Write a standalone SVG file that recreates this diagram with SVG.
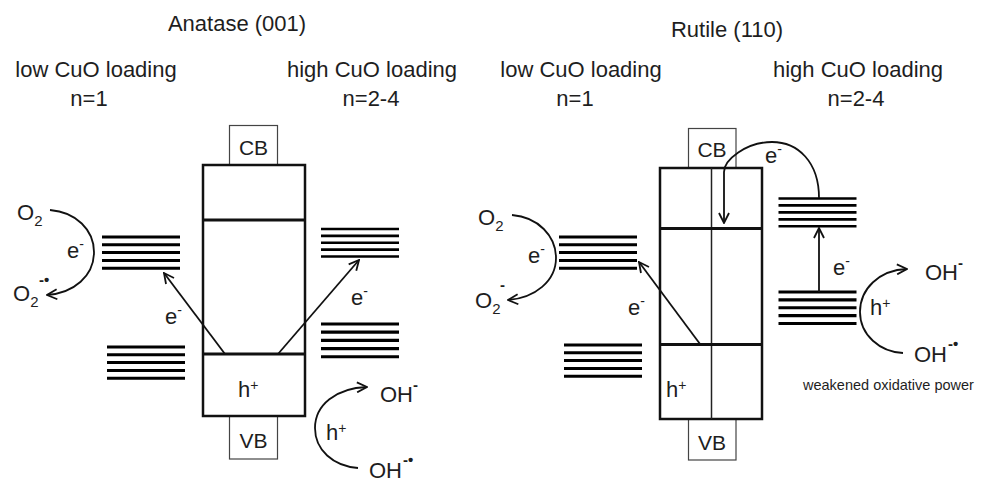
<svg xmlns="http://www.w3.org/2000/svg" width="984" height="483" viewBox="0 0 984 483">
<defs>
<style>
text{font-family:"Liberation Sans",Arial,sans-serif;fill:#1e1e1e;font-size:22px}
.t{font-size:21px}
.c{text-anchor:middle}
.box{fill:none;stroke:#111;stroke-width:2.5}
.thick{stroke:#111;stroke-width:3.2}
.thin{stroke:#222;stroke-width:1.5}
.tag{fill:#fff;stroke:#444;stroke-width:1.2}
.lv{stroke:#000;stroke-width:3}
.con{fill:none;stroke:#111;stroke-width:1.8}
.sup{font-size:14px}
.sm{font-size:15px}
.sym{font-size:15px;font-weight:bold}
.wk{font-size:14.5px}
</style>
<marker id="ah" viewBox="0 0 12 12" refX="11" refY="6" markerWidth="12" markerHeight="12" markerUnits="userSpaceOnUse" orient="auto">
<path d="M1,1 L11,6 L1,11" fill="none" stroke="#111" stroke-width="1.8"/>
</marker>
<g id="lv5" class="lv">
<line x1="0" y1="0" x2="78" y2="0"/>
<line x1="0" y1="7.8" x2="78" y2="7.8"/>
<line x1="0" y1="15.6" x2="78" y2="15.6"/>
<line x1="0" y1="23.4" x2="78" y2="23.4"/>
<line x1="0" y1="31.2" x2="78" y2="31.2"/>
</g>
</defs>
<rect width="984" height="483" fill="#fff"/>

<!-- headings -->
<g id="headings">
<text class="c" x="237" y="31">Anatase (001)</text>
<text class="c" x="96" y="77">low CuO loading</text>
<text class="c" x="89" y="106">n=1</text>
<text class="c" x="372" y="77">high CuO loading</text>
<text class="c" x="371" y="106">n=2-4</text>
<text class="c" x="727" y="37">Rutile (110)</text>
<text class="c" x="581" y="77">low CuO loading</text>
<text class="c" x="575" y="106">n=1</text>
<text class="c" x="858" y="77">high CuO loading</text>
<text class="c" x="856" y="106">n=2-4</text>
</g>

<!-- Anatase -->
<g id="anatase-cb"><rect class="tag" x="229.5" y="125.5" width="48" height="39.5"/><text class="c t" x="253.5" y="155">CB</text></g>
<g id="anatase-vb"><rect class="tag" x="229.5" y="416" width="48" height="43"/><text class="c t" x="253.5" y="448">VB</text></g>
<g id="anatase-body">
<rect class="box" x="203" y="165" width="102" height="251"/>
<line class="thick" x1="203" y1="220" x2="305" y2="220"/>
<line class="thick" x1="203" y1="354" x2="305" y2="354"/>
<text x="238" y="397">h<tspan class="sup" dy="-7">+</tspan></text>
</g>
<g id="anatase-cuo-low-upper"><use href="#lv5" x="102" y="237"/></g>
<g id="anatase-cuo-low-lower"><use href="#lv5" x="107" y="347"/></g>
<g id="anatase-cuo-high-upper"><use href="#lv5" x="321" y="229" transform="translate(321 229) scale(1 0.88) translate(-321 -229)"/></g>
<g id="anatase-cuo-high-lower"><use href="#lv5" x="321" y="324" transform="translate(321 324) scale(1 1.05) translate(-321 -324)"/></g>
<g id="anatase-o2">
<text x="17" y="220">O<tspan class="sm" dy="6">2</tspan></text>
<text x="13" y="301">O<tspan class="sm" dy="6">2</tspan><tspan class="sym" x="39" y="285">-•</tspan></text>
<text x="67" y="258">e<tspan class="sup" dy="-9">-</tspan></text>
</g>
<g id="anatase-oh">
<text x="380" y="402">OH<tspan class="sym" x="413" y="390">-</tspan></text>
<text x="369" y="478">OH<tspan class="sym" x="403" y="465">-•</tspan></text>
<text x="326" y="440">h<tspan class="sup" dy="-7">+</tspan></text>
</g>
<g id="anatase-labels">
<text x="165" y="324">e<tspan class="sup" dy="-9">-</tspan></text>
<text x="351" y="305">e<tspan class="sup" dy="-9">-</tspan></text>
</g>

<!-- Rutile -->
<g id="rutile-cb"><rect class="tag" x="688.5" y="128.5" width="47.5" height="39.5"/><text class="c t" x="712" y="157">CB</text></g>
<g id="rutile-vb"><rect class="tag" x="688.5" y="419" width="47.5" height="41"/><text class="c t" x="712" y="450">VB</text></g>
<g id="rutile-body">
<rect class="box" x="660" y="168" width="102" height="251"/>
<line class="thin" x1="711.5" y1="168" x2="711.5" y2="419"/>
<line class="thick" x1="660" y1="228.5" x2="762" y2="228.5"/>
<line class="thick" x1="660" y1="344.5" x2="762" y2="344.5"/>
<text x="666" y="397">h<tspan class="sup" dy="-7">+</tspan></text>
</g>
<g id="rutile-cuo-low-upper"><use href="#lv5" x="559" y="237"/></g>
<g id="rutile-cuo-low-lower"><use href="#lv5" x="564" y="345"/></g>
<g id="rutile-cuo-high-upper"><use href="#lv5" x="778.5" y="198.5" transform="translate(778.5 198.5) scale(1 0.89) translate(-778.5 -198.5)"/></g>
<g id="rutile-cuo-high-lower"><use href="#lv5" x="778.5" y="292" transform="translate(778.5 292) scale(1 1.01) translate(-778.5 -292)"/></g>
<g id="rutile-o2">
<text x="478" y="225">O<tspan class="sm" dy="6">2</tspan></text>
<text x="475" y="308">O<tspan class="sm" dy="6">2</tspan><tspan class="sym" x="500" y="290">-</tspan></text>
<text x="528" y="263">e<tspan class="sup" dy="-9">-</tspan></text>
</g>
<g id="rutile-oh">
<text x="925" y="280">OH<tspan class="sym" x="958" y="268">-</tspan></text>
<text x="914" y="362">OH<tspan class="sym" x="948" y="349">-•</tspan></text>
<text x="870" y="315">h<tspan class="sup" dy="-7">+</tspan></text>
<text class="wk" x="803" y="390">weakened oxidative power</text>
</g>
<g id="rutile-labels">
<text x="628" y="315">e<tspan class="sup" dy="-9">-</tspan></text>
<text x="833" y="275">e<tspan class="sup" dy="-9">-</tspan></text>
<text x="765" y="163">e<tspan class="sup" dy="-9">-</tspan></text>
</g>

<!-- connectors -->
<g id="connectors">
<path class="con" d="M50,210 C76,212 94,230 94,252 C94,276 74,293 47,295" marker-end="url(#ah)"/>
<path class="con" d="M225,354 L164,273" marker-end="url(#ah)"/>
<path class="con" d="M278,354 L359,260" marker-end="url(#ah)"/>
<path class="con" d="M358,468 C333,466 315,450 315,428 C315,405 336,388 367,387" marker-end="url(#ah)"/>
<path class="con" d="M512,215 C538,217 556,236 556,258 C556,281 535,298 508,300" marker-end="url(#ah)"/>
<path class="con" d="M700,344 L639,262" marker-end="url(#ah)"/>
<path class="con" d="M819,198 C819,162 798,142 772,142 C746,142 724,160 724,172 L724,223" marker-end="url(#ah)"/>
<path class="con" d="M819,292 L819,228" marker-end="url(#ah)"/>
<path class="con" d="M903,353 C880,352 860,335 860,312 C860,289 879,270 907,269" marker-end="url(#ah)"/>
</g>
</svg>
